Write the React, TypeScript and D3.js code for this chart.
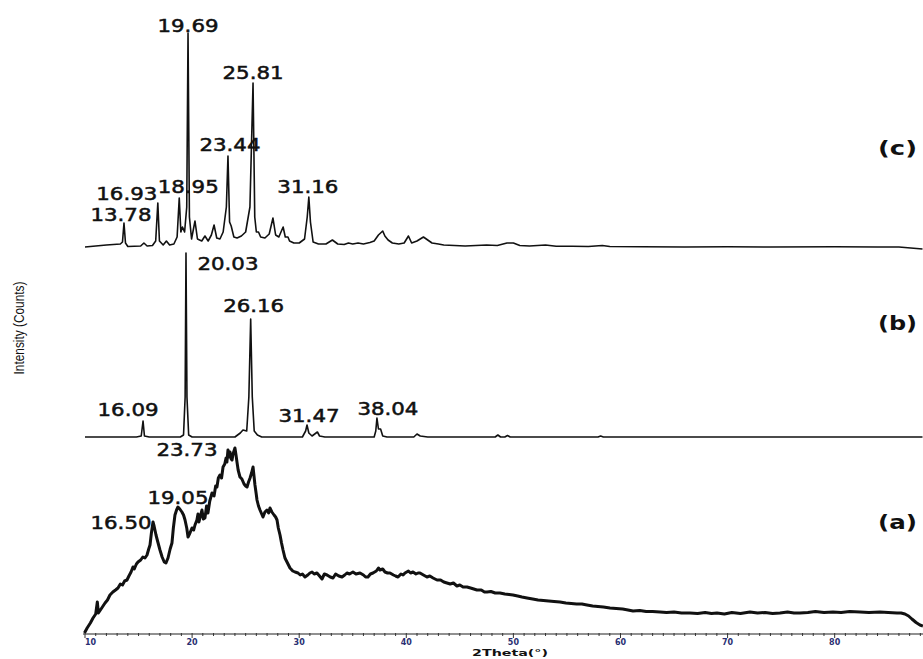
import React, { useEffect, useRef } from "react";
import * as d3 from "d3";

const W = 923;
const H = 659;

// x axis
const thetaTicks = [10, 20, 30, 40, 50, 60, 70, 80];
const thetaDomain = [10, 88.2];

// stacked patterns, counts above each own baseline
const stackNames = ["(a)", "(b)", "(c)"];
const stackOffsets = [0, 1970, 3870];

// (a) amorphous
const seriesA: [number, number][] = [
  [9.95, 10], [10.2, 60], [10.5, 110], [10.75, 160], [11.0, 200], [11.15, 320], [11.25, 210], [11.5, 250],
  [11.87, 310], [12.1, 340], [12.33, 390], [12.6, 420], [12.85, 440], [13.08, 460], [13.3, 500], [13.5, 490],
  [13.7, 530], [13.92, 540], [14.1, 580], [14.3, 620], [14.48, 670], [14.6, 650], [14.8, 700], [14.95, 720],
  [15.2, 740], [15.4, 770], [15.6, 760], [15.79, 790], [15.95, 850], [16.07, 890], [16.2, 1010], [16.35, 1120],
  [16.45, 1080], [16.63, 990], [16.8, 920], [17.0, 840], [17.2, 770], [17.4, 720], [17.56, 710], [17.75, 760],
  [17.95, 850], [18.12, 910], [18.25, 1060], [18.4, 1190], [18.55, 1240], [18.68, 1270], [18.85, 1250], [19.05, 1220],
  [19.2, 1190], [19.34, 1140], [19.5, 1060], [19.62, 970], [19.8, 1010], [19.99, 1060], [20.15, 1040], [20.27, 1090],
  [20.45, 1140], [20.55, 1200], [20.64, 1120], [20.8, 1190], [20.92, 1240], [21.05, 1150], [21.2, 1160], [21.35, 1280],
  [21.48, 1210], [21.65, 1330], [21.86, 1410], [22.05, 1380], [22.2, 1480], [22.32, 1470], [22.45, 1560], [22.6, 1590],
  [22.75, 1560], [22.89, 1670], [23.05, 1700], [23.17, 1760], [23.25, 1720], [23.35, 1840], [23.45, 1770], [23.54, 1820],
  [23.65, 1750], [23.73, 1740], [23.82, 1800], [23.91, 1830], [24.0, 1860], [24.1, 1790], [24.19, 1720], [24.3, 1640],
  [24.47, 1570], [24.65, 1550], [24.85, 1500], [25.0, 1480], [25.13, 1470], [25.27, 1520], [25.41, 1560], [25.55, 1610],
  [25.69, 1670], [25.78, 1580], [25.87, 1490], [26.0, 1390], [26.06, 1340], [26.2, 1280], [26.34, 1240], [26.5, 1200],
  [26.62, 1170], [26.8, 1220], [26.99, 1240], [27.15, 1210], [27.27, 1260], [27.45, 1220], [27.65, 1190], [27.8, 1170],
  [27.93, 1140], [28.05, 1060], [28.21, 990], [28.35, 910], [28.49, 840], [28.67, 760], [28.86, 720], [29.0, 690],
  [29.14, 660], [29.4, 630], [29.61, 620], [29.89, 610], [30.1, 590], [30.3, 600], [30.54, 570], [30.8, 590],
  [31.0, 610], [31.2, 620], [31.4, 600], [31.66, 610], [31.9, 580], [32.13, 550], [32.35, 600], [32.6, 590],
  [32.9, 570], [33.16, 560], [33.4, 600], [33.7, 580], [34.0, 570], [34.25, 590], [34.46, 610], [34.7, 600],
  [35.02, 620], [35.3, 600], [35.68, 610], [36.0, 590], [36.2, 570], [36.42, 570], [36.65, 600], [36.89, 610],
  [37.2, 630], [37.4, 660], [37.54, 640], [37.8, 650], [38.01, 620], [38.25, 610], [38.48, 610], [38.8, 590],
  [39.0, 580], [39.23, 570], [39.5, 600], [39.7, 590], [39.88, 610], [40.2, 630], [40.4, 610], [40.63, 620],
  [40.9, 600], [41.1, 610], [41.28, 610], [41.6, 590], [41.93, 570], [42.2, 580], [42.5, 560], [42.87, 540],
  [43.2, 540], [43.5, 520], [43.8, 510], [44.1, 500], [44.4, 510], [44.73, 480], [45.0, 490], [45.3, 470],
  [45.67, 470], [46.0, 460], [46.3, 450], [46.6, 440], [47.0, 440], [47.3, 420], [47.54, 420], [47.9, 425],
  [48.3, 410], [48.75, 410], [49.2, 400], [49.6, 395], [49.96, 390], [50.4, 380], [50.8, 370], [51.27, 360],
  [51.8, 350], [52.3, 340], [52.8, 335], [53.3, 330], [53.8, 325], [54.35, 320], [54.9, 310], [55.4, 305],
  [55.9, 300], [56.4, 300], [56.87, 290], [57.4, 280], [57.9, 275], [58.4, 270], [59.02, 260], [59.6, 255],
  [60.2, 250], [60.7, 240], [61.17, 230], [61.8, 235], [62.4, 225], [63.0, 225], [63.69, 220], [64.3, 215],
  [65.0, 220], [65.7, 210], [66.49, 210], [67.2, 205], [67.9, 215], [68.5, 205], [69.01, 210], [69.7, 200],
  [70.4, 215], [71.2, 205], [72.09, 220], [72.8, 210], [73.5, 215], [74.2, 205], [74.89, 210], [75.6, 220],
  [76.2, 210], [76.76, 210], [77.5, 215], [78.2, 225], [79.0, 215], [79.84, 220], [80.6, 215], [81.4, 225],
  [82.36, 220], [83.2, 215], [84.23, 220], [85.0, 215], [85.82, 210], [86.2, 210], [86.56, 200], [86.9, 180],
  [87.21, 150], [87.6, 115], [87.96, 90], [88.24, 80],
];

// (b)
const seriesB: [number, number][] = [
  [10, 0], [14.8, 0], [15.25, 10], [15.42, 160], [15.55, 10], [16.0, 0], [18.9, 0], [19.2, 20],
  [19.35, 400], [19.43, 1840], [19.52, 400], [19.68, 20], [20.0, 0], [24.0, 0], [24.5, 40], [24.75, 70],
  [25.1, 60], [25.3, 400], [25.47, 1180], [25.62, 400], [25.8, 60], [26.1, 20], [26.5, 0], [30.3, 0],
  [30.6, 60], [30.73, 120], [30.9, 40], [31.2, 10], [31.7, 50], [31.9, 10], [32.4, 0], [37.0, 0],
  [37.15, 60], [37.26, 190], [37.4, 80], [37.6, 80], [37.8, 10], [38.2, 0], [40.7, 0], [41.0, 30],
  [41.3, 10], [42, 0], [48.3, 0], [48.55, 20], [48.8, 0], [49.2, 0], [49.45, 15], [49.7, 0],
  [57.9, 0], [58.15, 10], [58.4, 0], [88.2, 0],
];

// (c)
const seriesC: [number, number][] = [
  [10, 0], [12, 20], [13.3, 30], [13.5, 50], [13.64, 240], [13.78, 40], [14.0, 5], [15.2, 10],
  [15.5, 40], [15.8, 10], [16.3, 15], [16.6, 60], [16.8, 440], [16.95, 60], [17.3, 20], [17.6, 60],
  [17.9, 20], [18.3, 30], [18.6, 100], [18.8, 490], [18.95, 150], [19.1, 200], [19.3, 150], [19.5, 400],
  [19.62, 2140], [19.75, 300], [19.95, 80], [20.27, 260], [20.5, 80], [20.9, 60], [21.2, 110], [21.5, 60],
  [21.8, 120], [22.05, 220], [22.3, 90], [22.6, 80], [22.9, 150], [23.2, 400], [23.35, 910], [23.5, 250],
  [23.65, 210], [23.9, 100], [24.2, 90], [24.6, 110], [25.0, 150], [25.4, 400], [25.69, 1640], [25.85, 300],
  [26.0, 150], [26.2, 150], [26.4, 100], [26.8, 90], [27.2, 130], [27.55, 290], [27.8, 120], [28.1, 100],
  [28.5, 200], [28.7, 100], [28.95, 100], [29.1, 60], [29.5, 40], [30.0, 40], [30.5, 80], [30.75, 300],
  [30.9, 500], [31.05, 250], [31.3, 50], [31.8, 30], [32.5, 30], [33.1, 70], [33.6, 30], [34.2, 25],
  [34.6, 40], [35.0, 30], [35.5, 40], [36.0, 30], [36.6, 45], [37.0, 60], [37.4, 120], [37.8, 160],
  [38.0, 110], [38.3, 70], [38.7, 40], [39.3, 30], [39.8, 40], [40.2, 110], [40.5, 40], [41.0, 60],
  [41.6, 100], [42.0, 70], [42.4, 40], [43.0, 30], [43.5, 20], [44.5, 15], [45.5, 10], [46.5, 15],
  [47.5, 20], [48.5, 15], [49.4, 40], [50.0, 40], [50.6, 15], [51.5, 10], [53.0, 20], [54.0, 8],
  [55.5, 8], [57.0, 5], [58.3, 15], [59.0, 5], [62, 2], [66, 0], [70, 3], [74, 0],
  [80, 2], [84, 0], [86, 0], [88.2, -20],
];

// annotated peaks
const peakThetaA = [16.35, 18.68, 23.35];
const peakTextA = ["16.50", "19.05", "23.73"];
const peakThetaB = [15.42, 19.43, 25.47, 30.73, 37.26];
const peakTextB = ["16.09", "20.03", "26.16", "31.47", "38.04"];
const peakThetaC = [13.64, 16.8, 18.8, 19.62, 23.35, 25.69, 30.9];
const peakTextC = ["13.78", "16.93", "18.95", "19.69", "23.44", "25.81", "31.16"];

const Chart = () => {
  const ref = useRef<SVGSVGElement>(null);

  useEffect(() => {
    const svg = d3.select(ref.current);
    svg.selectAll("*").remove();

    const x = d3.scaleLinear().domain(thetaDomain).range([85, 922.5]);
    const y = d3.scaleLinear().domain([0, 6340]).range([634, 0]);

    const all = [seriesA, seriesB, seriesC];
    const peaks = [peakThetaA, peakThetaB, peakThetaC];
    const texts = [peakTextA, peakTextB, peakTextC];
    const widths = [3, 1.6, 1.6];
    // label shifts in px from peak top
    const shifts = [
      [[-32, 7], [0, -3], [-41, 6]],
      [[-15, -5], [42, 17], [3, -7], [2, -3], [11, -3]],
      [[-3, -2], [-31, -3], [9, -5], [0, -1], [2, -5], [0, -4], [-1, -4]],
    ];
    const nameY = [529, 330, 155];

    all.forEach((s, i) => {
      const off = stackOffsets[i];
      const line = d3
        .line<[number, number]>()
        .x((d) => x(d[0]))
        .y((d) => y(d[1] + off));

      svg
        .append("path")
        .datum(s)
        .attr("d", line)
        .attr("fill", "none")
        .attr("stroke", "#111")
        .attr("stroke-width", widths[i])
        .attr("stroke-linejoin", "round");

      peaks[i].forEach((t, j) => {
        const p = s.reduce((a, b) => (Math.abs(b[0] - t) < Math.abs(a[0] - t) ? b : a));
        svg
          .append("text")
          .attr("x", x(p[0]) + shifts[i][j][0])
          .attr("y", y(p[1] + off) + shifts[i][j][1])
          .attr("text-anchor", "middle")
          .attr("textLength", 61)
          .attr("lengthAdjust", "spacingAndGlyphs")
          .style("font-family", "DejaVu Sans")
          .style("font-size", "17.5px")
          .style("fill", "#111")
          .style("stroke", "#111")
          .style("stroke-width", 0.5)
          .text(texts[i][j]);
      });

      svg
        .append("text")
        .attr("x", 917)
        .attr("y", nameY[i])
        .attr("text-anchor", "end")
        .attr("textLength", 39)
        .attr("lengthAdjust", "spacingAndGlyphs")
        .style("font-family", "DejaVu Sans")
        .style("font-weight", "bold")
        .style("font-size", "19px")
        .style("fill", "#111")
        .text(stackNames[i]);
    });

    // x axis
    const ax = svg.append("g").attr("transform", "translate(0,634)");
    ax.append("line")
      .attr("x1", 83)
      .attr("x2", 923)
      .attr("stroke", "#222")
      .attr("stroke-width", 1.2);
    ax.selectAll("line.minor")
      .data(d3.range(10, 89, 1))
      .enter()
      .append("line")
      .attr("class", "minor")
      .attr("x1", (d) => x(d))
      .attr("x2", (d) => x(d))
      .attr("y1", -1)
      .attr("y2", (d) => (d % 10 === 0 ? 4 : 2))
      .attr("stroke", "#333")
      .attr("stroke-width", 1);
    ax.selectAll("text.tick")
      .data(thetaTicks)
      .enter()
      .append("text")
      .attr("class", "tick")
      .attr("x", (d) => x(d))
      .attr("y", 11)
      .attr("text-anchor", (d, i) => (i === 0 ? "start" : "middle"))
      .style("font-family", "DejaVu Sans")
      .style("font-weight", "bold")
      .style("font-size", "8px")
      .style("fill", "#2a2f72")
      .text((d) => d);

    svg
      .append("text")
      .attr("x", 510)
      .attr("y", 656)
      .attr("text-anchor", "middle")
      .attr("textLength", 76)
      .attr("lengthAdjust", "spacingAndGlyphs")
      .style("font-family", "DejaVu Sans")
      .style("font-weight", "bold")
      .style("font-size", "9px")
      .style("fill", "#111")
      .text("2Theta(°)");

    svg
      .append("text")
      .attr("transform", "translate(24,328) rotate(-90)")
      .attr("text-anchor", "middle")
      .attr("textLength", 93)
      .attr("lengthAdjust", "spacingAndGlyphs")
      .style("font-family", "Liberation Sans")
      .style("font-size", "14px")
      .style("fill", "#111")
      .text("Intensity (Counts)");
  }, []);

  return (
    <svg
      ref={ref}
      width={W}
      height={H}
      style={{ position: "absolute", left: 0, top: 0, background: "#fff" }}
    />
  );
};

export default function App() {
  return <Chart />;
}
